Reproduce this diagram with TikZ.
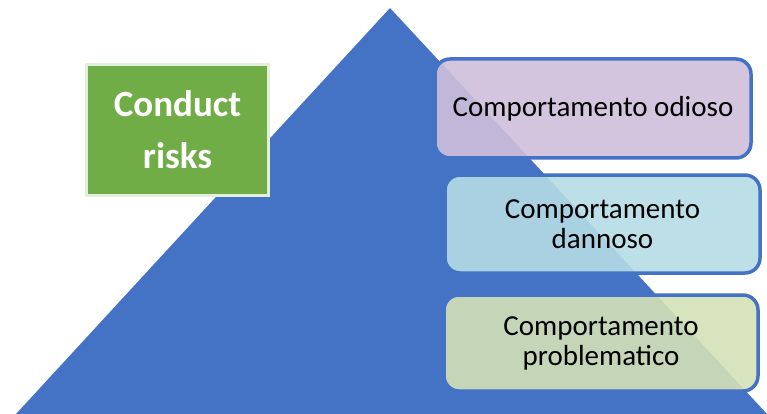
\documentclass[tikz,border=0pt]{standalone}
\usepackage{fontspec}
\setmainfont{Carlito}
\definecolor{triblue}{RGB}{68,114,196}
\definecolor{crgreen}{RGB}{112,173,71}
\definecolor{crborder}{RGB}{226,239,218}
\definecolor{lvl1}{RGB}{207,191,219}
\definecolor{lvl2}{RGB}{181,220,229}
\definecolor{lvl3}{RGB}{212,225,183}
\tikzset{
  levelbox/.style={draw=triblue, line width=3.5pt, rounded corners=15pt,
    fill opacity=0.9, text opacity=1, align=center,
    font=\fontsize{29}{30}\selectfont, inner sep=0pt},
  riskbox/.style={draw=crborder, line width=3pt, fill=crgreen, text=white,
    align=center, font=\fontsize{37}{52}\selectfont\bfseries,
    minimum width=182pt, minimum height=131pt, inner sep=0pt}
}
\begin{document}
\begin{tikzpicture}[x=1pt,y=-1pt]
\useasboundingbox (0,0) rectangle (767,414);
\fill[triblue] (390,8) coordinate (apex) -- (767,414) -- (16,414) -- cycle;
\node[riskbox] (risk) at (177.5,130) {Conduct\\risks};
\node[levelbox, fill=lvl1, minimum width=316pt, minimum height=99pt] (l1) at (593,108.5) {Comportamento odioso};
\node[levelbox, fill=lvl2, minimum width=315pt, minimum height=98pt] (l2) at (602.5,224) {Comportamento\\dannoso};
\node[levelbox, fill=lvl3, minimum width=314pt, minimum height=96pt] (l3) at (601,343) {Comportamento\\problematico};
\end{tikzpicture}
\end{document}
